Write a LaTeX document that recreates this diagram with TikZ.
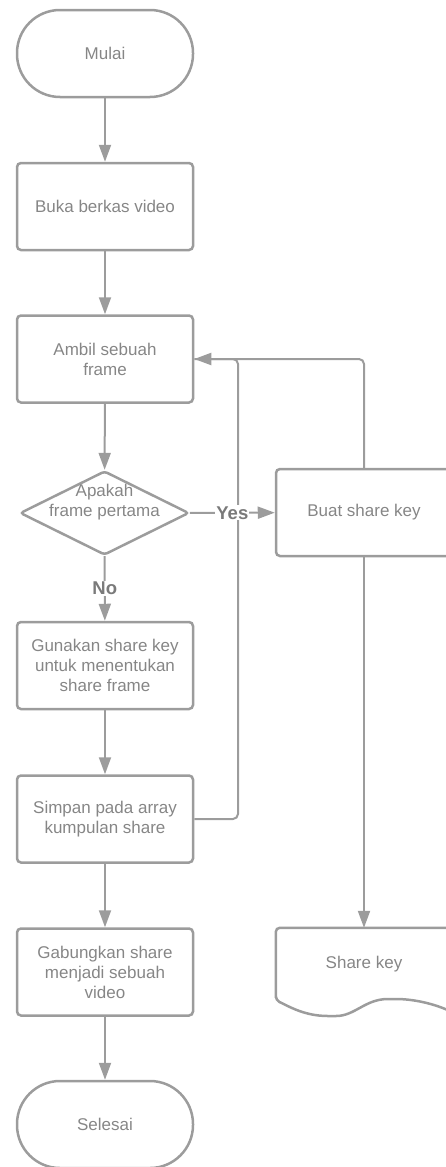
\documentclass[tikz,border=0pt]{standalone}
\usepackage{fontspec}
\setmainfont{Liberation Sans}
\usetikzlibrary{arrows.meta,shapes.geometric,calc}
\definecolor{lc}{HTML}{9C9C9C}
\definecolor{tc}{HTML}{868686}
\definecolor{lbl}{HTML}{7A7A7A}
\begin{document}
\begin{tikzpicture}[x=1pt,y=-1pt,
  font=\fontsize{17}{20}\selectfont,
  proc/.style={draw=lc, line width=2.5pt, rounded corners=4pt, minimum width=176pt, minimum height=87pt, text=tc, align=center, inner sep=0pt},
  term/.style={proc, rounded corners=43pt},
  txt/.style={text=tc, align=center, inner sep=0pt},
  line/.style={draw=lc, line width=2pt},
  conn/.style={line, -{Triangle[length=17pt,width=12pt]}},
  lab/.style={text=lbl, font=\fontsize{18.5}{20}\selectfont\bfseries, fill=white, inner sep=1pt}]
\useasboundingbox (0,0) rectangle (446,1167);
\node[term] (start) at (105,53.5) {Mulai};
\node[proc] (open) at (105,206.5) {Buka berkas video};
\node[proc] (take) at (105,359) {Ambil sebuah\\frame};
\node[diamond, draw=lc, line width=2.5pt, rounded corners=3pt, minimum width=169pt, minimum height=84pt, inner sep=0pt] (dec) at (104.5,513) {};
\node[txt] (dect) at (104.5,502) {Apakah\\frame pertama};
\node[proc] (key) at (364,512.5) {Buat share key};
\node[proc] (use) at (105,665.5) {Gunakan share key\\untuk menentukan\\share frame};
\node[proc] (save) at (105,819) {Simpan pada array\\kumpulan share};
\node[proc] (join) at (105,972) {Gabungkan share\\menjadi sebuah\\video};
\node[term] (stop) at (105,1124.5) {Selesai};
\node[txt, minimum width=176pt, minimum height=72pt] (doc) at (364,964) {Share key};
\draw[draw=lc, line width=2.5pt, rounded corners=4pt] (doc.south west) -- (doc.north west) -- (doc.north east) -- (452,1012)
  .. controls (432,1003) and (412,999) .. (392,999)
  .. controls (365,999) and (355,1016) .. (332,1016)
  .. controls (305,1016) and (290,1007) .. (doc.south west) -- cycle;
\coordinate (jn) at (238,359);
\draw[conn] (start) -- (open);
\draw[conn] (open) -- (take);
\draw[conn] (take) -- (dec);
\draw[conn] (dec) -- node[lab] {No} (use);
\draw[line, rounded corners=5pt] (save.east) -| (jn) -- (take.east);
\draw[conn, rounded corners=5pt] (key.north) |- (take.east);
\draw[conn] (dec) -- node[lab] {Yes} (key);
\draw[conn] (key) -- (doc);
\draw[conn] (use) -- (save);
\draw[conn] (save) -- (join);
\draw[conn] (join) -- (stop);
\end{tikzpicture}
\end{document}
